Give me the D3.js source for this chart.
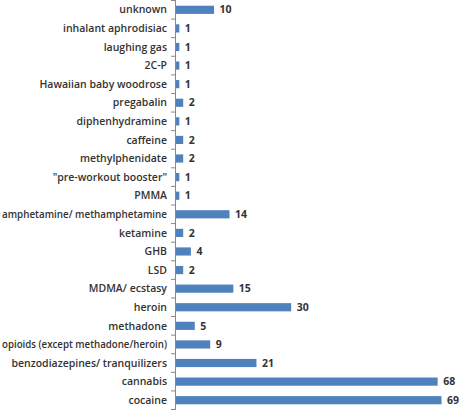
<!DOCTYPE html>
<html>
<head>
<meta charset="utf-8">
<script src="https://cdn.jsdelivr.net/npm/d3@7"></script>
<style>
body { margin: 0; background: #fff; }
text { font-family: "Open Sans", "Liberation Sans", Arial, sans-serif; }
</style>
</head>
<body>
<div id="chart"></div>
<script>
// categories top to bottom
const substances = ["unknown", "inhalant aphrodisiac", "laughing gas", "2C-P", "Hawaiian baby woodrose",
    "pregabalin", "diphenhydramine", "caffeine", "methylphenidate", "\"pre-workout booster\"", "PMMA",
    "amphetamine/ methamphetamine", "ketamine", "GHB", "LSD", "MDMA/ ecstasy", "heroin", "methadone",
    "opioids (except methadone/heroin)", "benzodiazepines/ tranquilizers", "cannabis", "cocaine"];
const counts = [10, 1, 1, 1, 1, 2, 1, 2, 2, 1, 1, 14, 2, 4, 2, 15, 30, 5, 9, 21, 68, 69];

const width = 473, height = 410;
const margin = {top: 0, right: 20, bottom: 0, left: 175};

const svg = d3.select("#chart")
    .append("svg")
    .attr("width", width)
    .attr("height", height);

// 69 -> ends around x=441
const x = d3.scaleLinear()
    .domain([0, 69])
    .range([margin.left, 441]);

const y = d3.scaleBand()
    .domain(substances)
    .range([0.5, 409.5])
    .paddingInner(0.56)
    .paddingOuter(0.28);

svg.selectAll("rect")
    .data(substances)
    .enter()
    .append("rect")
    .attr("x", x(0) + 0.5)
    .attr("y", function (d) { return y(d); })
    .attr("width", function (d, i) { return x(counts[i]) - x(0); })
    .attr("height", y.bandwidth())
    .style("fill", "#4f81bd");

// category labels
svg.selectAll("text.cat")
    .data(substances)
    .enter()
    .append("text")
    .attr("class", "cat")
    .attr("x", margin.left - 8)
    .attr("y", function (d) { return y(d) + y.bandwidth() / 2; })
    .attr("dy", "0.35em")
    .attr("text-anchor", "end")
    .attr("font-size", "10.5px")
    .attr("font-weight", "600")
    .attr("fill", "#333")
    .text(function (d) { return d; })
    .each(function () {
        // squeeze labels that would run off the left edge
        if (this.getComputedTextLength() > 165) {
            d3.select(this).attr("textLength", 165).attr("lengthAdjust", "spacingAndGlyphs");
        }
    });

// value labels
svg.selectAll("text.val")
    .data(substances)
    .enter()
    .append("text")
    .attr("class", "val")
    .attr("x", function (d, i) { return x(counts[i]) + 6; })
    .attr("y", function (d) { return y(d) + y.bandwidth() / 2; })
    .attr("dy", "0.35em")
    .attr("font-size", "10.5px")
    .attr("font-weight", "bold")
    .attr("fill", "#333")
    .text(function (d, i) { return counts[i]; });

// vertical axis line with ticks between categories
svg.append("line")
    .attr("x1", margin.left + 0.5).attr("x2", margin.left + 0.5)
    .attr("y1", 0).attr("y2", height)
    .style("stroke", "#888");

const step = y.step();
svg.selectAll("line.tick")
    .data(d3.range(substances.length + 1))
    .enter()
    .append("line")
    .attr("class", "tick")
    .attr("x1", margin.left - 4).attr("x2", margin.left)
    .attr("y1", function (i) { return y(substances[0]) - step * 0.28 + i * step; })
    .attr("y2", function (i) { return y(substances[0]) - step * 0.28 + i * step; })
    .style("stroke", "#888");
</script>
</body>
</html>
